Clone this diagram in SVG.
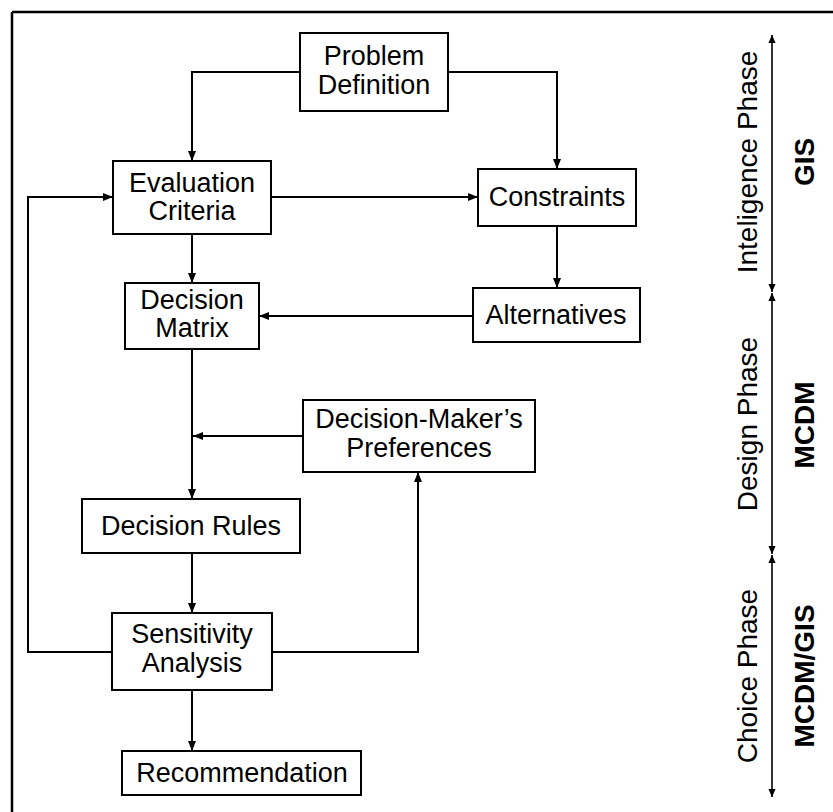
<svg xmlns="http://www.w3.org/2000/svg" width="833" height="812" viewBox="0 0 833 812">
  <style>
    .box { fill: #fff; stroke: #000; stroke-width: 2; }
    .lbl { font-family: "Liberation Sans", Arial, sans-serif; font-size: 27px; fill: #000; text-anchor: middle; }
    .side { font-family: "Liberation Sans", Arial, sans-serif; font-size: 28px; fill: #000; text-anchor: middle; }
    .bold { font-weight: bold; font-size: 28px; }
    .conn { fill: none; stroke: #000; stroke-width: 2; }
    .axis { fill: none; stroke: #000; stroke-width: 1.6; }
  </style>
  <defs>
    <marker id="arr" viewBox="0 0 10 10" refX="10" refY="5" markerWidth="10" markerHeight="10" markerUnits="userSpaceOnUse" orient="auto">
      <path d="M0,1 L10,5 L0,9 Z" fill="#000"/>
    </marker>
    <marker id="arrAxis" viewBox="0 0 10 10" refX="10" refY="5" markerWidth="11" markerHeight="8" markerUnits="userSpaceOnUse" orient="auto-start-reverse">
      <path d="M0,0.5 L10,5 L0,9.5 Z" fill="#000"/>
    </marker>
  </defs>

  <!-- frame (top and left edges) -->
  <path d="M12,12 H833 M12,12 V812" fill="none" stroke="#000" stroke-width="2.5"/>

  <!-- connectors -->
  <g id="connectors">
    <path class="conn" d="M300,72 H192 V161" marker-end="url(#arr)"/>
    <path class="conn" d="M448,72 H557 V169" marker-end="url(#arr)"/>
    <path class="conn" d="M271,197 H478" marker-end="url(#arr)"/>
    <path class="conn" d="M557,226 V288" marker-end="url(#arr)"/>
    <path class="conn" d="M192,234 V283" marker-end="url(#arr)"/>
    <path class="conn" d="M473,316 H259" marker-end="url(#arr)"/>
    <path class="conn" d="M192,349 V499" marker-end="url(#arr)"/>
    <path class="conn" d="M303,436 H193" marker-end="url(#arr)"/>
    <path class="conn" d="M192,553 V613" marker-end="url(#arr)"/>
    <path class="conn" d="M112,652 H28 V197 H113" marker-end="url(#arr)"/>
    <path class="conn" d="M272,652 H418 V472" marker-end="url(#arr)"/>
    <path class="conn" d="M192,690 V751" marker-end="url(#arr)"/>
  </g>

  <!-- nodes -->
  <g id="problem-definition">
    <rect class="box" x="300" y="33" width="148" height="78"/>
    <text class="lbl" x="374" y="65">Problem</text>
    <text class="lbl" x="374" y="94">Definition</text>
  </g>
  <g id="evaluation-criteria">
    <rect class="box" x="113" y="161" width="158" height="73"/>
    <text class="lbl" x="192" y="192">Evaluation</text>
    <text class="lbl" x="192" y="220">Criteria</text>
  </g>
  <g id="constraints">
    <rect class="box" x="478" y="169" width="158" height="57"/>
    <text class="lbl" x="557" y="206">Constraints</text>
  </g>
  <g id="alternatives">
    <rect class="box" x="473" y="288" width="167" height="54"/>
    <text class="lbl" x="556" y="324">Alternatives</text>
  </g>
  <g id="decision-matrix">
    <rect class="box" x="125" y="283" width="134" height="66"/>
    <text class="lbl" x="192" y="309">Decision</text>
    <text class="lbl" x="192" y="337">Matrix</text>
  </g>
  <g id="decision-makers-preferences">
    <rect class="box" x="303" y="400" width="232" height="72"/>
    <text class="lbl" x="419" y="428">Decision-Maker’s</text>
    <text class="lbl" x="419" y="457">Preferences</text>
  </g>
  <g id="decision-rules">
    <rect class="box" x="82" y="499" width="218" height="54"/>
    <text class="lbl" x="191" y="535">Decision Rules</text>
  </g>
  <g id="sensitivity-analysis">
    <rect class="box" x="112" y="613" width="160" height="77"/>
    <text class="lbl" x="192" y="643">Sensitivity</text>
    <text class="lbl" x="192" y="672">Analysis</text>
  </g>
  <g id="recommendation">
    <rect class="box" x="122" y="751" width="239" height="44"/>
    <text class="lbl" x="242" y="782">Recommendation</text>
  </g>

  <!-- phase axis -->
  <g id="phase-axis">
    <path class="axis" d="M772,292 V35" marker-end="url(#arrAxis)" marker-start="url(#arrAxis)"/>
    <path class="axis" d="M772,293 V554" marker-end="url(#arrAxis)" marker-start="url(#arrAxis)"/>
    <path class="axis" d="M772,555 V797" marker-end="url(#arrAxis)" marker-start="url(#arrAxis)"/>
  </g>
  <g id="intelligence-phase">
    <text class="side" transform="translate(757,162) rotate(-90)">Inteligence Phase</text>
    <text class="side bold" transform="translate(814,162) rotate(-90)">GIS</text>
  </g>
  <g id="design-phase">
    <text class="side" transform="translate(757,424) rotate(-90)">Design Phase</text>
    <text class="side bold" transform="translate(814,425) rotate(-90)">MCDM</text>
  </g>
  <g id="choice-phase">
    <text class="side" transform="translate(757,676) rotate(-90)">Choice Phase</text>
    <text class="side bold" transform="translate(814,676) rotate(-90)">MCDM/GIS</text>
  </g>
</svg>
